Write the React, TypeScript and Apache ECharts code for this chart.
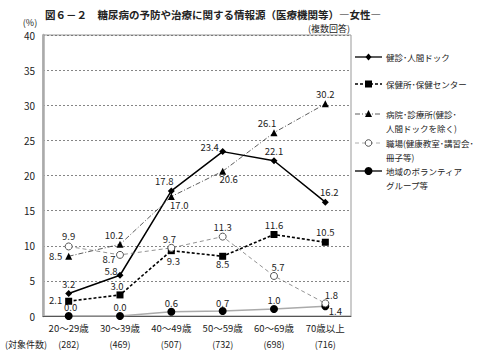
import React, { useEffect, useRef } from "react";
import * as echarts from "echarts";

const categories = ["20～29歳", "30～39歳", "40～49歳", "50～59歳", "60～69歳", "70歳以上"];
const counts = ["282", "469", "507", "732", "698", "716"];
const seriesNames = [
  "健診・人間ドック",
  "保健所・保健センター",
  "病院・診療所（健診・人間ドックを除く）",
  "職場（健康教室・講習会・冊子等）",
  "地域のボランティアグループ等",
];
const kenshin = [3.2, 5.8, 17.8, 23.4, 22.1, 16.2];
const hokenjo = [2.1, 3.0, 9.3, 8.5, 11.6, 10.5];
const byoin = [8.5, 10.2, 17.0, 20.6, 26.1, 30.2];
const shokuba = [9.9, 8.7, 9.7, 11.3, 5.7, 1.8];
const chiiki = [0.0, 0.0, 0.6, 0.7, 1.0, 1.4];
const yTicks = [0, 5, 10, 15, 20, 25, 30, 35, 40];

// label offsets (label centre relative to the point), styling only
const labelOffsets: number[][][] = [
  [[0, -10], [-9, -4], [-7, -10], [-13, -5], [0, -10], [4, -10]],
  [[-13, -1], [-3, -9], [2, 10], [0, 8], [0, -10], [0, -10]],
  [[-13, 0], [-6, -9], [8, 8], [6, 8], [-7, -10], [0, -10]],
  [[0, -10], [-11, 4], [-2, -9], [0, -10], [4, -9], [6, -8]],
  [[2, -9], [0, -9], [0, -9], [0, -8], [0, -9], [10, 5]],
];

const FONT = "'Noto Sans CJK JP', 'Noto Sans', sans-serif";

export default function App() {
  const ref = useRef<HTMLDivElement>(null);
  useEffect(() => {
    if (!ref.current) return;
    const chart = echarts.init(ref.current, null, { renderer: "svg" });

    const values = [kenshin, hokenjo, byoin, shokuba, chiiki];
    const mkData = (arr: number[], si: number) =>
      arr.map((v, i) => ({
        value: v,
        label: {
          show: true,
          position: "inside",
          offset: labelOffsets[si][i],
          formatter: (p: any) => Number(p.value).toFixed(1),
          color: "#222",
          fontSize: 9.5,
          fontFamily: FONT,
        },
      }));

    const styles = [
      { line: { color: "#000", width: 1.5, type: "solid" }, symbol: "diamond", size: 7, item: { color: "#000" } },
      { line: { color: "#000", width: 1.6, type: [3, 2] }, symbol: "rect", size: 7, item: { color: "#000" } },
      { line: { color: "#333", width: 0.8, type: [5, 2, 1, 2] }, symbol: "triangle", size: 7, item: { color: "#000" } },
      { line: { color: "#777", width: 0.8, type: [4, 3] }, symbol: "circle", size: 7, item: { color: "#fff", borderColor: "#555", borderWidth: 1 } },
      { line: { color: "#aaa", width: 1.5, type: "solid" }, symbol: "circle", size: 8, item: { color: "#000" } },
    ];

    const series = values.map((arr, si) => ({
      name: seriesNames[si],
      type: "line",
      data: mkData(arr, si),
      symbol: styles[si].symbol,
      symbolSize: styles[si].size,
      lineStyle: styles[si].line,
      itemStyle: styles[si].item,
      z: si === 4 ? 1 : 3,
    }));

    // legend drawn as graphic
    const legendX1 = 355;
    const legendX2 = 382;
    const legendRows: { y: number; lines: string[] }[] = [
      { y: 57, lines: ["健診･人間ドック"] },
      { y: 84, lines: ["保健所･保健センター"] },
      { y: 114, lines: ["病院･診療所(健診･", "人間ドックを除く)"] },
      { y: 143, lines: ["職場(健康教室･講習会･", "冊子等)"] },
      { y: 171, lines: ["地域のボランティア", "グループ等"] },
    ];
    const legendLineStyles = [
      { stroke: "#000", lineWidth: 1.3 },
      { stroke: "#000", lineWidth: 1.5, lineDash: [3, 2] },
      { stroke: "#333", lineWidth: 0.8, lineDash: [5, 2, 1, 2] },
      { stroke: "#999", lineWidth: 0.8, lineDash: [4, 3] },
      { stroke: "#000", lineWidth: 1.3 },
    ];
    const cx = (legendX1 + legendX2) / 2;
    const markers = (i: number, y: number): any => {
      if (i === 0) return { type: "polygon", shape: { points: [[cx, y - 3.5], [cx + 3, y], [cx, y + 3.5], [cx - 3, y]] }, style: { fill: "#000" } };
      if (i === 1) return { type: "rect", shape: { x: cx - 3.5, y: y - 3.5, width: 7, height: 7 }, style: { fill: "#000" } };
      if (i === 2) return { type: "polygon", shape: { points: [[cx, y - 4], [cx + 3.5, y + 3], [cx - 3.5, y + 3]] }, style: { fill: "#000" } };
      if (i === 3) return { type: "circle", shape: { cx, cy: y, r: 3.3 }, style: { fill: "#fff", stroke: "#555", lineWidth: 1 } };
      return { type: "circle", shape: { cx, cy: y, r: 4 }, style: { fill: "#000" } };
    };
    const legendGraphics: any[] = [];
    legendRows.forEach((row, i) => {
      legendGraphics.push({
        type: "line",
        shape: { x1: legendX1, y1: row.y, x2: legendX2, y2: row.y },
        style: { ...legendLineStyles[i], fill: null },
      });
      legendGraphics.push(markers(i, row.y));
      row.lines.forEach((t, k) => {
        legendGraphics.push({
          type: "text",
          x: 386,
          y: row.y + k * 14,
          style: { text: t, fontSize: 8.5, fontFamily: FONT, fill: "#222", verticalAlign: "middle", align: "left" },
        });
      });
    });

    chart.setOption({
      animation: false,
      title: {
        text: "図６－２　糖尿病の予防や治療に関する情報源（医療機関等）―女性―",
        left: 40,
        top: 4,
        textStyle: { fontSize: 10.5, fontWeight: "bold", color: "#222", fontFamily: FONT },
      },
      grid: { left: 43, right: 131, top: 35, bottom: 38, show: true, borderColor: "#999", borderWidth: 1 },
      xAxis: {
        type: "category",
        data: categories,
        boundaryGap: true,
        axisLine: { lineStyle: { color: "#555", width: 1 } },
        axisTick: { show: false },
        axisLabel: {
          margin: 4,
          interval: 0,
          formatter: (v: string, i: number) => `{a|${v}}\n{b|(${counts[i]})}`,
          rich: {
            a: { fontSize: 9.5, lineHeight: 16, color: "#222", fontFamily: FONT },
            b: { fontSize: 9, lineHeight: 16, color: "#222", fontFamily: FONT },
          },
        },
      },
      yAxis: {
        type: "value",
        min: yTicks[0],
        max: yTicks[yTicks.length - 1],
        interval: 5,
        axisLine: { show: true, lineStyle: { color: "#aaa", width: 2.5 } },
        axisTick: { show: false },
        axisLabel: { color: "#222", fontSize: 10, margin: 8, fontFamily: FONT },
        splitLine: { lineStyle: { color: "#666", width: 0.8, type: [2, 2] } },
      },
      series,
      graphic: [
        { type: "text", x: 30, y: 22, style: { text: "(%)", fontSize: 9, fontFamily: FONT, fill: "#222", align: "center", verticalAlign: "middle" } },
        { type: "text", x: 350, y: 28, style: { text: "(複数回答)", fontSize: 9, fontFamily: FONT, fill: "#222", align: "right", verticalAlign: "middle" } },
        { type: "text", x: 5, y: 344, style: { text: "(対象件数)", fontSize: 9, fontFamily: FONT, fill: "#222", align: "left", verticalAlign: "middle" } },
        ...legendGraphics,
      ],
    });
    return () => chart.dispose();
  }, []);
  return <div ref={ref} style={{ width: 482, height: 354, position: "absolute", left: 0, top: 0 }} />;
}
